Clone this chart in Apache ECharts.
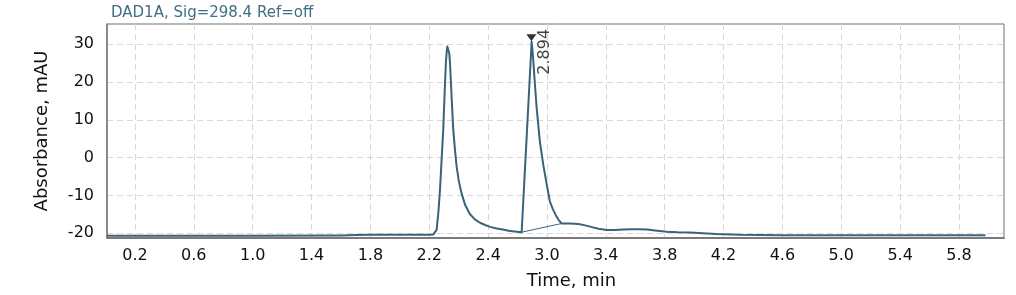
<!DOCTYPE html>
<html>
<head>
<meta charset="utf-8">
<script src="https://cdn.jsdelivr.net/npm/echarts@6/dist/echarts.min.js"></script>
<style>
  html, body { margin: 0; padding: 0; background: #fff; }
  #chart { width: 1016px; height: 295px; }
</style>
</head>
<body>
<div id="chart"></div>
<script>
// ---- data ----
const titleText = 'DAD1A, Sig=298.4 Ref=off';
const xAxisTitle = 'Time, min';
const yAxisTitle = 'Absorbance, mAU';

const times = [0.01, 0.5, 1.0, 1.5, 1.6, 1.7, 1.8, 2.0, 2.2, 2.228, 2.238, 2.25, 2.262, 2.273, 2.284, 2.295, 2.305, 2.313, 2.318, 2.323, 2.327, 2.331, 2.336, 2.341, 2.352, 2.363, 2.375, 2.386, 2.40, 2.42, 2.445, 2.476, 2.51, 2.545, 2.58, 2.613, 2.66, 2.70, 2.74, 2.78, 2.828, 2.845, 2.862, 2.879, 2.896, 2.906, 2.918, 2.93, 2.952, 2.975, 2.998, 3.02, 3.04, 3.06, 3.08, 3.10, 3.15, 3.19, 3.224, 3.26, 3.30, 3.35, 3.406, 3.46, 3.52, 3.58, 3.632, 3.68, 3.72, 3.813, 3.89, 3.972, 4.06, 4.15, 4.312, 4.6, 5.0, 5.5, 5.98];
const absorbance = [-20.65, -20.65, -20.65, -20.6, -20.55, -20.45, -20.35, -20.35, -20.35, -20.3, -20.0, -19.1, -14.5, -8.5, -0.5, 7.3, 17.5, 25.1, 27.8, 29.4, 29.8, 29.3, 27.6, 25.1, 16.0, 7.5, 2.0, -2.3, -6.0, -9.5, -12.6, -14.9, -16.3, -17.2, -17.8, -18.3, -18.7, -19.0, -19.3, -19.5, -19.7, -7.1, 5.5, 18.1, 30.7, 26.3, 19.5, 13.1, 4.2, -1.9, -7.0, -11.6, -13.6, -15.2, -16.5, -17.4, -17.4, -17.45, -17.6, -17.9, -18.3, -18.8, -19.1, -19.1, -19.0, -18.9, -18.9, -19.0, -19.2, -19.6, -19.75, -19.8, -20.0, -20.2, -20.4, -20.5, -20.5, -20.5, -20.5];

// integration baseline under peak 2
const baselineTimes = [2.828, 3.10];
const baselineValues = [-19.7, -17.4];

// annotated peak
const peakTimes = [2.894];
const peakHeights = [30.7];
const peakLabels = ['2.894'];

// axis ticks
const xTickValues = [0.2, 0.6, 1.0, 1.4, 1.8, 2.2, 2.6, 3.0, 3.4, 3.8, 4.2, 4.6, 5.0, 5.4, 5.8];
const xTickLabels = ['0.2', '0.6', '1.0', '1.4', '1.8', '2.2', '2.4', '3.0', '3.4', '3.8', '4.2', '4.6', '5.0', '5.4', '5.8'];
const yTickValues = [-20, -10, 0, 10, 20, 30];

const lineColor = '#3a6379';
const font = 'DejaVu Sans';

const chart = echarts.init(document.getElementById('chart'), null, { renderer: 'canvas' });

const curve = times.map((t, i) => [t, absorbance[i]]);
const baseline = baselineTimes.map((t, i) => [t, baselineValues[i]]);
const peaks = peakTimes.map((t, i) => ({ value: [t, peakHeights[i]], label: { formatter: peakLabels[i] } }));

chart.setOption({
  animation: false,
  backgroundColor: '#ffffff',
  textStyle: { fontFamily: font },
  title: {
    text: titleText,
    left: 108,
    top: 4,
    padding: [2, 3],
    textStyle: { color: '#3f6e86', fontSize: 15, fontWeight: 'normal', fontFamily: font }
  },
  grid: {
    left: 107, right: 12, top: 24, bottom: 57,
    outerBoundsMode: 'none',
    containLabel: false,
    show: true, borderColor: '#6e6e6e', borderWidth: 1
  },
  xAxis: {
    type: 'value',
    min: 0.01, max: 6.106,
    name: xAxisTitle,
    nameLocation: 'middle',
    nameGap: 34,
    nameTextStyle: { fontSize: 18, color: '#111', fontFamily: font, padding: [0, 0, 0, 32] },
    axisLine: { show: true, onZero: false, lineStyle: { color: '#7a7a7a', width: 2 } },
    axisTick: { show: false, customValues: xTickValues },
    axisLabel: {
      customValues: xTickValues,
      fontSize: 16, color: '#111', margin: 10, fontFamily: font,
      formatter: v => {
        const i = xTickValues.findIndex(x => Math.abs(x - v) < 1e-6);
        return i >= 0 ? xTickLabels[i] : '';
      }
    },
    splitLine: { show: true, lineStyle: { color: '#d8d8d8', type: [6, 4], width: 1 } }
  },
  yAxis: {
    type: 'value',
    min: -21.24, max: 35.37,
    name: yAxisTitle,
    nameLocation: 'middle',
    nameGap: 56,
    nameTextStyle: { fontSize: 18, color: '#111', fontFamily: font },
    axisLine: { show: true, onZero: false, lineStyle: { color: '#7a7a7a', width: 1.5 } },
    axisTick: { show: false, customValues: yTickValues },
    axisLabel: { customValues: yTickValues, fontSize: 16, color: '#111', margin: 13, fontFamily: font },
    splitLine: { show: true, lineStyle: { color: '#d8d8d8', type: [6, 4], width: 1 } }
  },
  series: [
    {
      type: 'line',
      data: curve,
      showSymbol: false,
      smooth: false,
      lineStyle: { color: lineColor, width: 2, join: 'round' },
      z: 3
    },
    {
      type: 'line',
      data: baseline,
      showSymbol: false,
      lineStyle: { color: lineColor, width: 1 },
      z: 2
    },
    {
      type: 'scatter',
      data: peaks,
      symbol: 'path://M0,0 L10,0 L5,7 Z',
      symbolSize: [10, 7],
      symbolOffset: [0, -4],
      itemStyle: { color: '#000' },
      label: {
        show: true,
        position: 'right',
        distance: 3,
        rotate: 90,
        offset: [-37, 5],
        fontSize: 16,
        color: '#111',
        fontFamily: font
      },
      z: 4
    }
  ]
});
</script>
</body>
</html>
